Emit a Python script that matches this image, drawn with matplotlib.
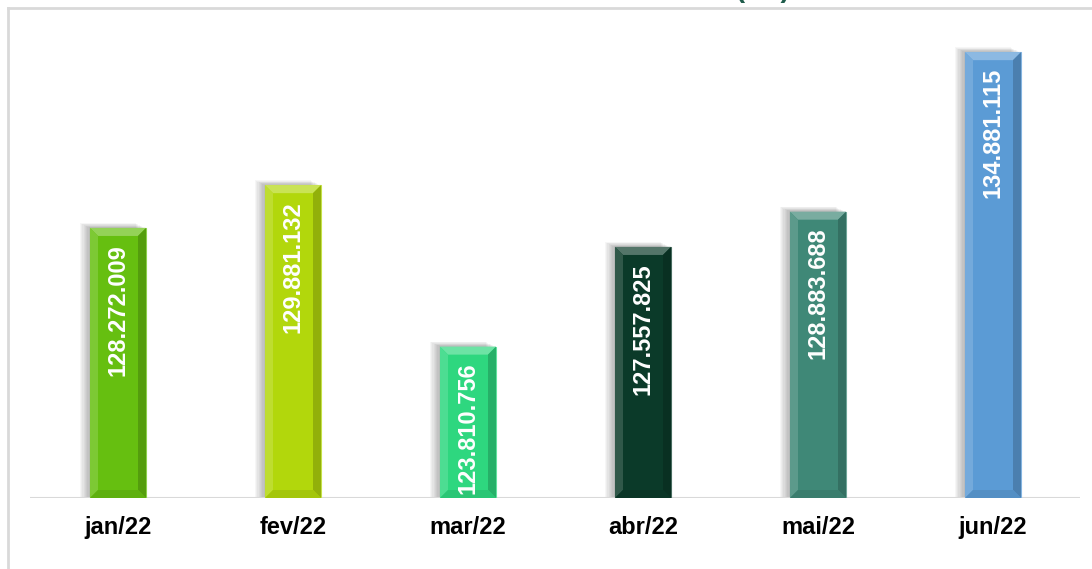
import matplotlib
matplotlib.use("Agg")
import matplotlib.pyplot as plt
from matplotlib.patches import Polygon, Rectangle
from matplotlib.lines import Line2D
import matplotlib.colors as mcolors
import numpy as np

categories = ["jan/22", "fev/22", "mar/22", "abr/22", "mai/22", "jun/22"]
values = [128272009, 129881132, 123810756, 127557825, 128883688, 134881115]
labels = ["128.272.009", "129.881.132", "123.810.756", "127.557.825", "128.883.688", "134.881.115"]
colors = ["#66BF10", "#B2D70C", "#2ED77F", "#0B3A29", "#3F8877", "#5B9BD5"]
title = "VOLUME TRANSACIONADO MENSAL (R$)"

plt.rcParams['font.family'] = ['Liberation Sans', 'DejaVu Sans']

W, H = 1092, 569
fig = plt.figure(figsize=(W / 100, H / 100), dpi=100)

# axes geometry in pixels
ax_left, ax_right = 30, 1080
ax_top, ax_bottom = 20, 498
ax = fig.add_axes([ax_left / W, (H - ax_bottom) / H, (ax_right - ax_left) / W, (ax_bottom - ax_top) / H])

x = np.arange(len(categories))
xstep = 175.0
x0_px = 118.0
xlim = (-(x0_px - ax_left) / xstep, -(x0_px - ax_left) / xstep + (ax_right - ax_left) / xstep)
ymin = 118.12e6
ppm = 26.6  # pixels per million
ymax = ymin + (ax_bottom - ax_top) / ppm * 1e6
ax.set_xlim(*xlim)
ax.set_ylim(ymin, ymax)

px_x = (xlim[1] - xlim[0]) / (ax_right - ax_left)  # data units per px (x)
px_y = (ymax - ymin) / (ax_bottom - ax_top)        # data units per px (y)

bw = 56 * px_x
bev_x = 8 * px_x
bev_y = 8 * px_y


def shade(c, f):
    r = np.array(mcolors.to_rgb(c))
    if f >= 0:
        r = r + (1 - r) * f
    else:
        r = r * (1 + f)
    return tuple(np.clip(r, 0, 1))


for xi, v, c, lab in zip(x, values, colors, labels):
    l, r = xi - bw / 2, xi + bw / 2
    b, t = ymin, v
    # soft shadow
    for k in range(1, 9):
        ax.add_patch(Rectangle((l - k * px_x * 1.3, b), bw, (v - ymin) + k * px_y * 0.6,
                               facecolor="black", alpha=0.035, linewidth=0, zorder=1))
    ax.add_patch(Rectangle((l, b), bw, v - b, facecolor=c, edgecolor=shade(c, 0.25),
                           linewidth=0.8, zorder=3))
    # bevels
    ax.add_patch(Polygon([(l, t), (r, t), (r - bev_x, t - bev_y), (l + bev_x, t - bev_y)],
                         closed=True, facecolor=shade(c, 0.30), linewidth=0, zorder=4))
    ax.add_patch(Polygon([(l, t), (l + bev_x, t - bev_y), (l + bev_x, b + bev_y), (l, b)],
                         closed=True, facecolor=shade(c, 0.15), linewidth=0, zorder=4))
    ax.add_patch(Polygon([(r, t), (r - bev_x, t - bev_y), (r - bev_x, b + bev_y), (r, b)],
                         closed=True, facecolor=shade(c, -0.18), linewidth=0, zorder=4))
    ax.add_patch(Polygon([(l, b), (l + bev_x, b + bev_y), (r - bev_x, b + bev_y), (r, b)],
                         closed=True, facecolor=shade(c, -0.08), linewidth=0, zorder=4))
    ax.annotate(lab, xy=(xi, v), xytext=(0, -11.5), textcoords="offset points",
                rotation=90, ha="center", va="top", color="white",
                fontsize=17, fontweight="bold", zorder=6)

ax.axhline(ymin, color="#D9D9D9", linewidth=1.5, zorder=2)

ax.set_xticks(x)
ax.set_xticklabels(categories, fontsize=17, fontweight="bold", color="black")
ax.tick_params(axis="x", length=0, pad=13)
ax.set_yticks([])
for s in ax.spines.values():
    s.set_visible(False)

# outer chart frame (partially visible)
fig.add_artist(Line2D([8 / W, 8 / W], [0, (H - 8) / H], color="#D9D9D9", linewidth=2))
fig.add_artist(Line2D([8 / W, 1], [(H - 8) / H, (H - 8) / H], color="#D9D9D9", linewidth=2))

# title, cut off at the top edge as in the original
fig.text(790 / W, (H + 3) / H, title, ha="right", va="baseline",
         fontsize=20, fontweight="bold", color="#1F5C4B")

fig.savefig("out.png", dpi=100)
